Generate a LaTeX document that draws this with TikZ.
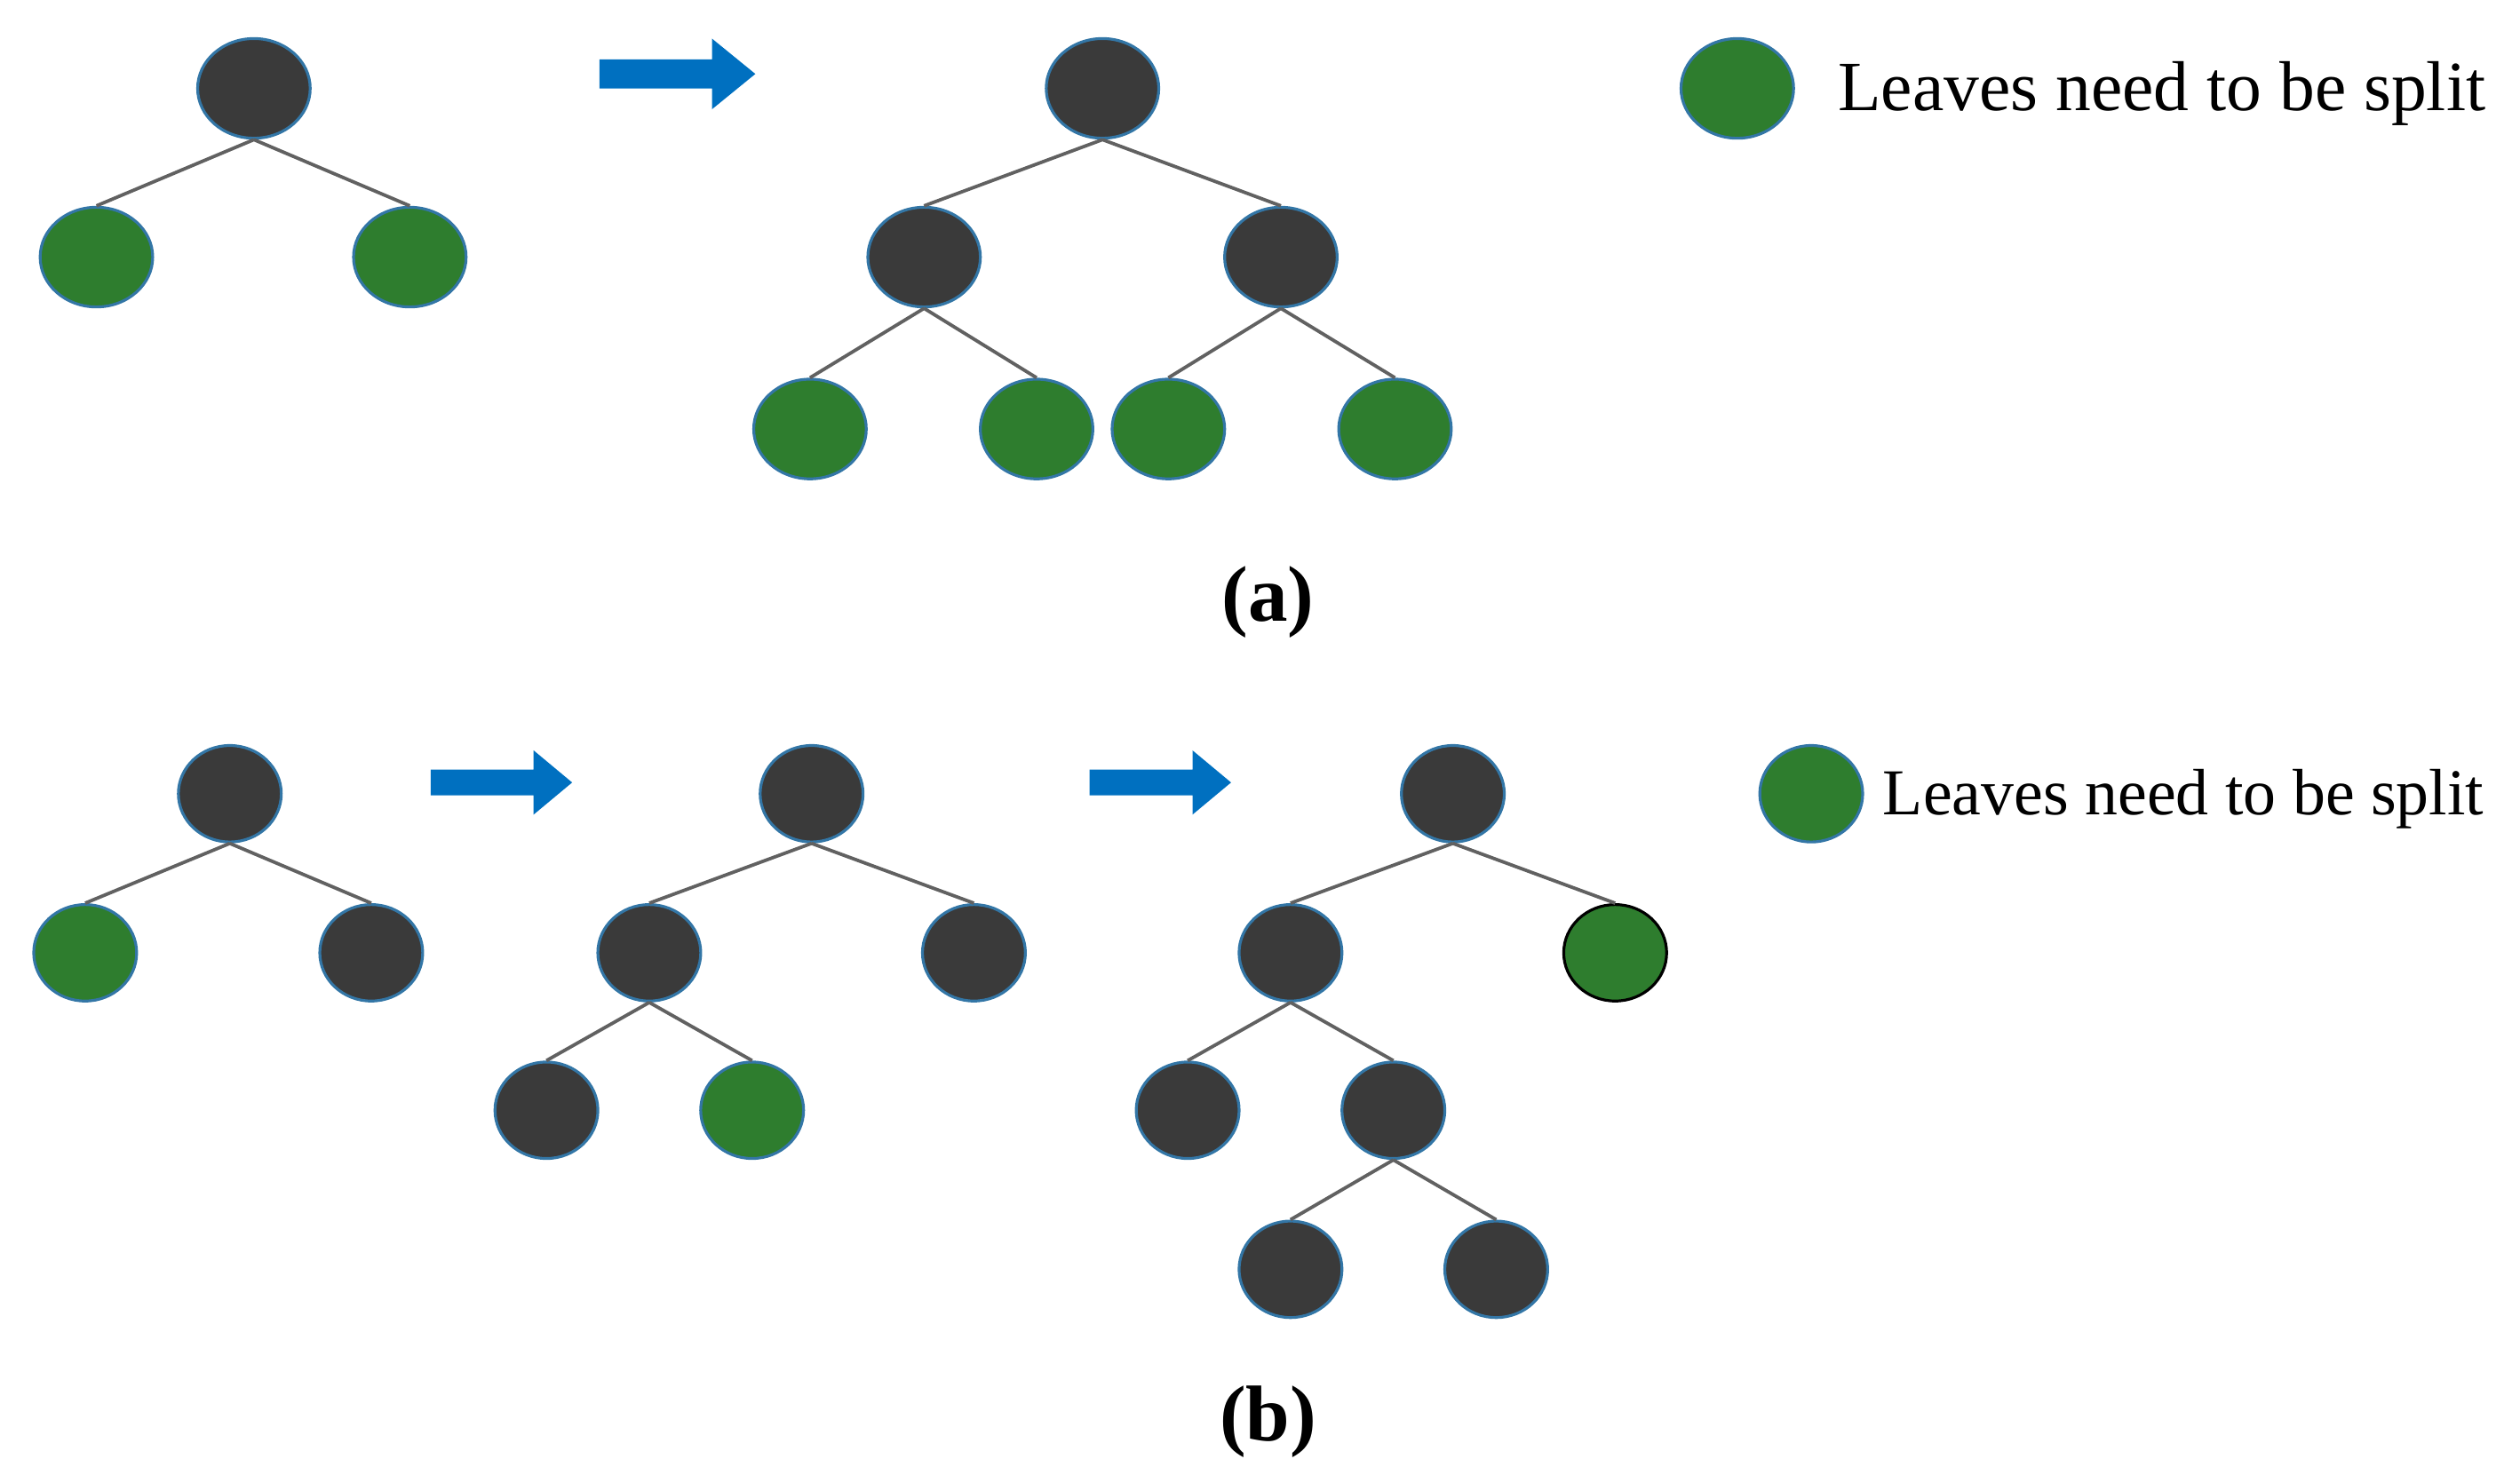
\documentclass[tikz,border=0pt]{standalone}
\usepackage{fontspec}
\setmainfont{Liberation Serif}
\usetikzlibrary{shapes.geometric}
\definecolor{dk}{HTML}{3A3A3A}
\definecolor{gr}{HTML}{2E7D2E}
\definecolor{bl}{HTML}{0070C0}
\begin{document}
\begin{tikzpicture}[x=0.01cm,y=-0.01cm,
 big/.style={ellipse,inner sep=0,minimum width=0.70cm,minimum height=0.62cm,draw=bl!60!gray,line width=0.5pt},
 sm/.style={ellipse,inner sep=0,minimum width=0.64cm,minimum height=0.60cm,draw=bl!60!gray,line width=0.5pt},
 D/.style={fill=dk},G/.style={fill=gr},
 ed/.style={draw=dk!80,line width=0.6pt},
 arr/.style={fill=bl}]
\useasboundingbox (0,0) rectangle (1568,923);
% (a)
\node[big,D] (r1) at (158,55) {};
\node[big,G] (l1) at (60,160) {};
\node[big,G] (l2) at (255,160) {};
\draw[ed] (r1.south)--(l1.north) (r1.south)--(l2.north);
\fill[arr] (373,37)--(443,37)--(443,24)--(470,46)--(443,68)--(443,55)--(373,55)--cycle;
\node[big,D] (r2) at (686,55) {};
\node[big,D] (c1) at (575,160) {};
\node[big,D] (c2) at (797,160) {};
\node[big,G] (g1) at (504,267) {};
\node[big,G] (g2) at (645,267) {};
\node[big,G] (g3) at (727,267) {};
\node[big,G] (g4) at (868,267) {};
\draw[ed] (r2.south)--(c1.north) (r2.south)--(c2.north) (c1.south)--(g1.north) (c1.south)--(g2.north) (c2.south)--(g3.north) (c2.south)--(g4.north);
\node[big,G] (lg1) at (1081,55) {};
\node[anchor=west,font=\fontsize{12.5}{15}\selectfont,inner sep=0] (t1) at (1143,58) {Leaves need to be split};
\node[font=\fontsize{14}{16}\selectfont\bfseries] (la) at (789,375) {(a)};
% (b)
\node[sm,D] (b1) at (143,494) {};
\node[sm,G] (b2) at (53,593) {};
\node[sm,D] (b3) at (231,593) {};
\draw[ed] (b1.south)--(b2.north) (b1.south)--(b3.north);
\fill[arr] (268,479)--(332,479)--(332,467)--(356,487)--(332,507)--(332,495)--(268,495)--cycle;
\node[sm,D] (e1) at (505,494) {};
\node[sm,D] (e2) at (404,593) {};
\node[sm,D] (e3) at (606,593) {};
\node[sm,D] (e4) at (340,691) {};
\node[sm,G] (e5) at (468,691) {};
\draw[ed] (e1.south)--(e2.north) (e1.south)--(e3.north) (e2.south)--(e4.north) (e2.south)--(e5.north);
\fill[arr] (678,479)--(742,479)--(742,467)--(766,487)--(742,507)--(742,495)--(678,495)--cycle;
\node[sm,D] (f1) at (904,494) {};
\node[sm,D] (f2) at (803,593) {};
\node[sm,G,draw=black] (f3) at (1005,593) {};
\node[sm,D] (f4) at (739,691) {};
\node[sm,D] (f5) at (867,691) {};
\node[sm,D] (f6) at (803,790) {};
\node[sm,D] (f7) at (931,790) {};
\draw[ed] (f1.south)--(f2.north) (f1.south)--(f3.north) (f2.south)--(f4.north) (f2.south)--(f5.north) (f5.south)--(f6.north) (f5.south)--(f7.north);
\node[sm,G] (lg2) at (1127,494) {};
\node[anchor=west,font=\fontsize{11.6}{14}\selectfont,inner sep=0] (t2) at (1171,497) {Leaves need to be split};
\node[font=\fontsize{14}{16}\selectfont\bfseries] (lb) at (789,885) {(b)};
\end{tikzpicture}
\end{document}
